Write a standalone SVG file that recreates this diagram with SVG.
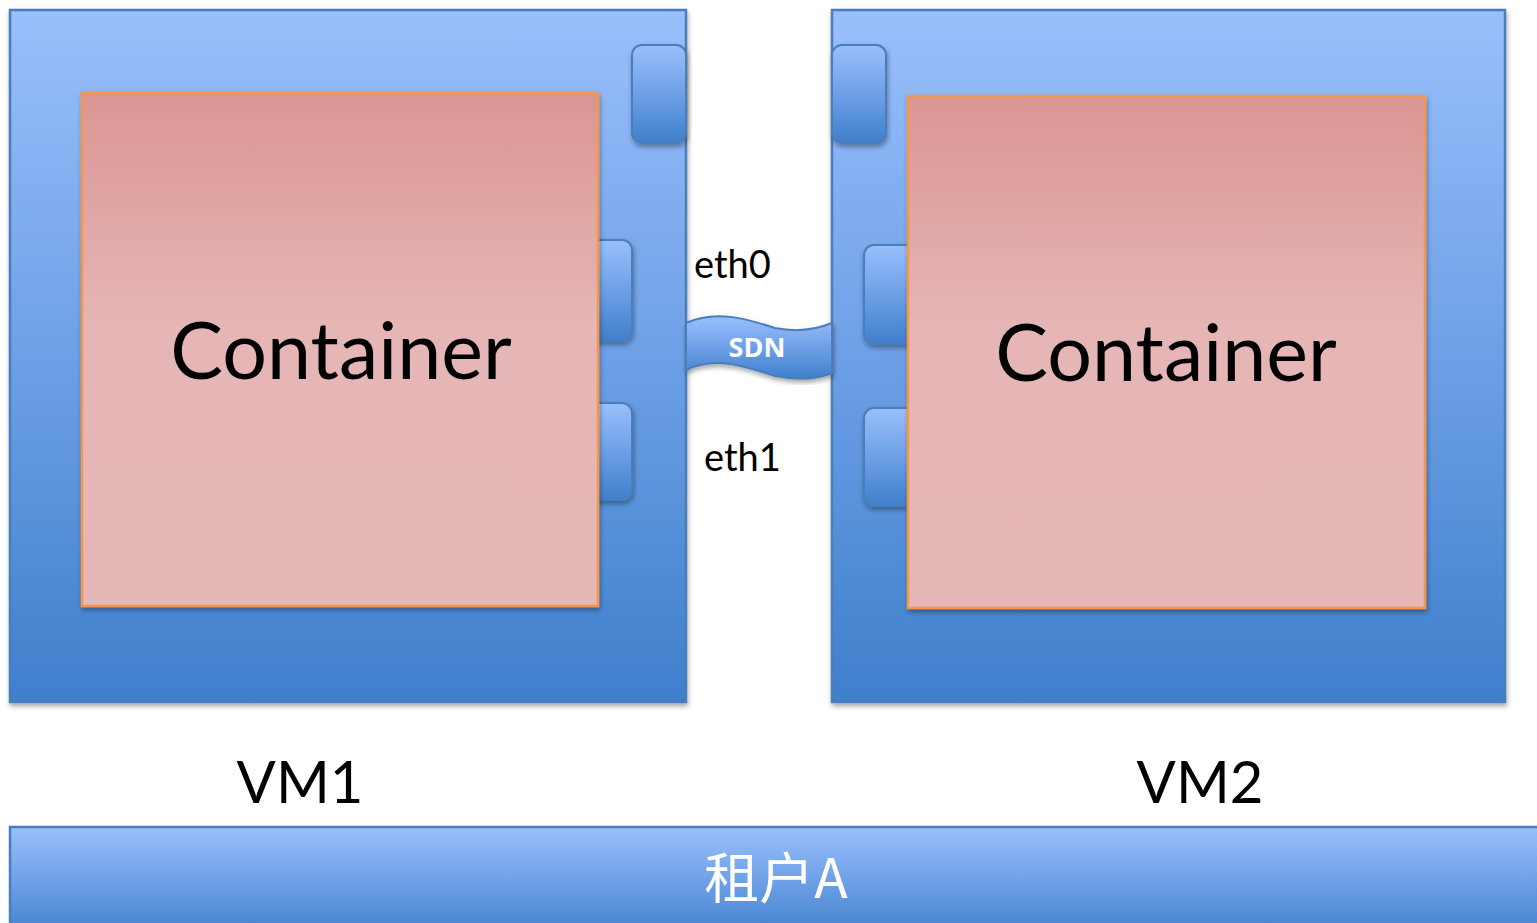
<svg xmlns="http://www.w3.org/2000/svg" width="1537" height="923" viewBox="0 0 1537 923">
<defs>
<linearGradient id="gBlue" x1="0" y1="0" x2="0" y2="1">
<stop offset="0" stop-color="#9ABFFC"/>
<stop offset="0.5" stop-color="#6DA0E6"/>
<stop offset="1" stop-color="#3F7FCC"/>
</linearGradient>
<linearGradient id="gRed" x1="0" y1="0" x2="0" y2="1">
<stop offset="0" stop-color="#DA9593"/>
<stop offset="0.45" stop-color="#E5B6B5"/>
<stop offset="1" stop-color="#E5B7B6"/>
</linearGradient>
<filter id="sh" x="-10%" y="-10%" width="120%" height="120%">
<feDropShadow dx="1" dy="3" stdDeviation="2.5" flood-color="#000" flood-opacity="0.35"/>
</filter>
</defs>
<style>
.vm{fill:url(#gBlue);stroke:#4A7EBB;stroke-width:2.5}
.port{fill:url(#gBlue);stroke:#4A7EBB;stroke-width:2}
.ct{fill:url(#gRed);stroke:#F79646;stroke-width:2.5}
.big{font-family:Lato,"Open Sans",sans-serif;font-size:79px;fill:#000}
.vmlab{font-family:Lato,"Open Sans",sans-serif;font-size:58px;fill:#000}
.eth{font-family:Lato,"Open Sans",sans-serif;font-size:38px;fill:#000}
</style>
<g id="vm1">
<rect class="vm" x="10" y="10" width="676" height="692" filter="url(#sh)"/>
<rect class="port" x="632" y="45" width="54" height="98" rx="10" filter="url(#sh)"/>
<rect class="port" x="578" y="240" width="54" height="101" rx="10" filter="url(#sh)"/>
<rect class="port" x="578" y="403" width="54" height="97" rx="10" filter="url(#sh)"/>
</g>
<g id="container1">
<rect class="ct" x="82" y="93" width="516" height="513" filter="url(#sh)"/>
<text class="big" x="341" y="379" text-anchor="middle">Container</text>
</g>
<g id="vm2">
<rect class="vm" x="832" y="10" width="673" height="692" filter="url(#sh)"/>
<rect class="port" x="832" y="45" width="54" height="98" rx="10" filter="url(#sh)"/>
<rect class="port" x="864" y="245" width="60" height="99" rx="10" filter="url(#sh)"/>
<rect class="port" x="864" y="408" width="60" height="98" rx="10" filter="url(#sh)"/>
</g>
<g id="container2">
<rect class="ct" x="908" y="96" width="517" height="512" filter="url(#sh)"/>
<text class="big" x="1166" y="381" text-anchor="middle">Container</text>
</g>
<g id="connectors">
<g id="sdn">
<path d="M686,323 C715,310 745,318 775,328 C795,332 815,330 832,323 L832,373 C815,380 795,380 775,376 C745,366 715,356 686,370 Z" fill="url(#gBlue)" stroke="#4A7EBB" stroke-width="2" filter="url(#sh)"/>
<text x="757" y="357" text-anchor="middle" font-family="'Open Sans',Lato,sans-serif" font-weight="bold" font-size="27" fill="#fff">SDN</text>
</g>
<text class="eth" x="694" y="278">eth0</text>
<text class="eth" x="704" y="471">eth1</text>
</g>
<g id="labels">
<text class="vmlab" x="300" y="803" text-anchor="middle">VM1</text>
<text class="vmlab" x="1200" y="803" text-anchor="middle">VM2</text>
</g>
<g id="tenant">
<rect x="10" y="827" width="1540" height="110" fill="url(#gBlue)" stroke="#4A7EBB" stroke-width="2.5"/>
<text x="776" y="898" text-anchor="middle" font-family="'Noto Sans CJK SC',sans-serif" font-size="55" fill="#fff">租户A</text>
</g>
</svg>
